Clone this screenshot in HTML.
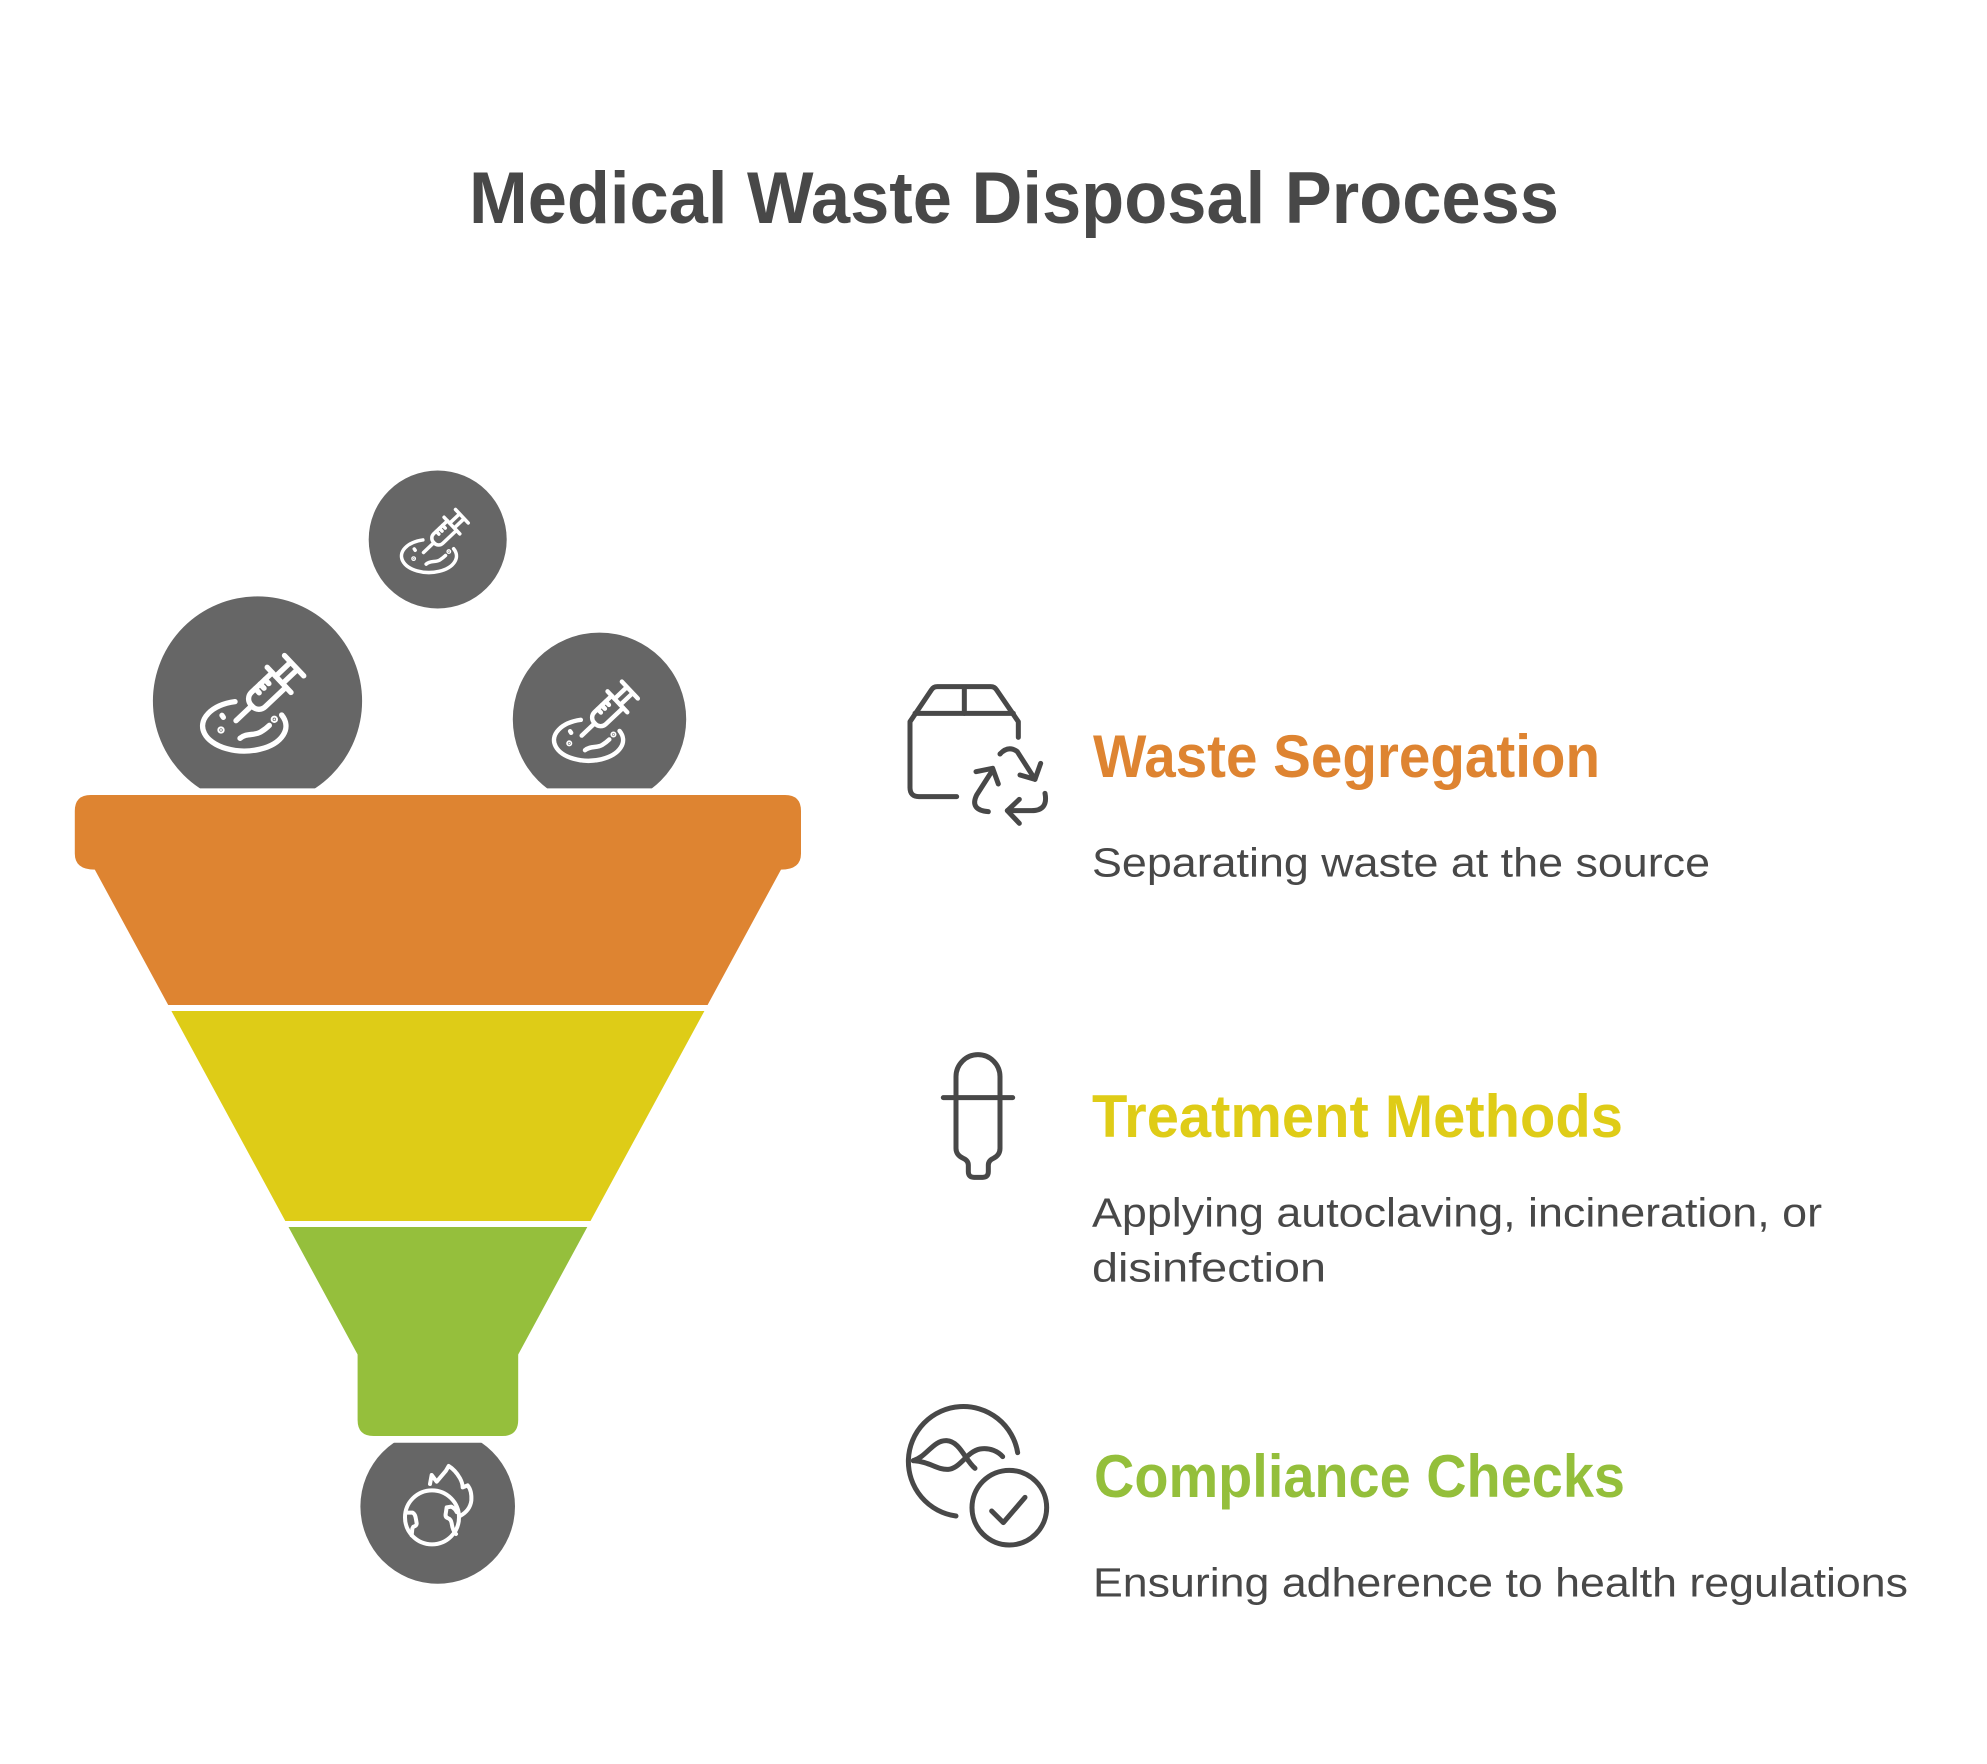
<!DOCTYPE html>
<html>
<head>
<meta charset="utf-8">
<style>
html,body{margin:0;padding:0;background:#fff;}
svg{display:block;}
text{font-family:"Liberation Sans",Arial,sans-serif;}
</style>
</head>
<body>
<svg width="1987" height="1764" viewBox="0 0 1987 1764" xmlns="http://www.w3.org/2000/svg">
<defs>
  <clipPath id="topClip"><rect x="0" y="0" width="1987" height="788.4"/></clipPath>
  <clipPath id="botClip"><rect x="0" y="1442.8" width="1987" height="400"/></clipPath>
  <g id="syr" fill="none" stroke="#fff" stroke-width="16" stroke-linecap="round" stroke-linejoin="round">
    <g transform="translate(168,302) rotate(-43.4)">
      <path d="M0,0 L65,0"/>
      <path d="M178,-30 L92,-30 A27,27 0 0 0 65,-3 L65,3 A27,27 0 0 0 92,30 L178,30"/>
      <path d="M178,-52 L178,52"/>
      <path d="M178,-15 L238,-15 M178,15 L238,15"/>
      <path d="M240,-42 L240,42"/>
      <path d="M108,-30 L108,-13 M128,-30 L128,-13 M148,-30 L148,-13"/>
    </g>
    <path d="M165,245 A125,75 0 1 0 305,285"/>
    <path d="M126,286 L130,292"/>
    <circle cx="123" cy="330" r="3" fill="#fff"/>
    <circle cx="283" cy="298" r="3" fill="#fff"/>
    <path d="M180,355 C200,338 222,348 242,336 C255,328 262,322 268,316"/>
  </g>
</defs>

<!-- Title -->
<text x="469" y="223" font-size="73" font-weight="bold" fill="#484848" textLength="1090" lengthAdjust="spacingAndGlyphs">Medical Waste Disposal Process</text>

<!-- Circles above funnel -->
<g clip-path="url(#topClip)">
  <circle cx="437.7" cy="539.5" r="69" fill="#666666"/>
  <circle cx="257.5" cy="701" r="104.6" fill="#666666"/>
  <circle cx="599.5" cy="719.3" r="86.7" fill="#666666"/>
</g>
<g transform="translate(257.5,701) scale(1) translate(-77.5,-81) scale(0.33333)"><use href="#syr"/></g>
<g transform="translate(437.7,539.5) scale(0.6597) translate(-77.5,-81) scale(0.33333)"><use href="#syr"/></g>
<g transform="translate(599.5,719.3) scale(0.8289) translate(-77.5,-81) scale(0.33333)"><use href="#syr"/></g>

<!-- Funnel -->
<path d="M90.8,795 L785,795 Q801,795 801,811 L801,853.6 Q801,869.6 781,869.6 L707.6,1005 L168.2,1005 L94.8,869.6 Q74.8,869.6 74.8,853.6 L74.8,811 Q74.8,795 90.8,795 Z" fill="#DE8431"/>
<path d="M171.4,1011 L704.4,1011 L590.5,1221 L285.3,1221 Z" fill="#DECC17"/>
<path d="M288.5,1227 L587.3,1227 L518.2,1354.5 L518.2,1420 Q518.2,1436 502.2,1436 L373.6,1436 Q357.6,1436 357.6,1420 L357.6,1354.5 Z" fill="#95BF3C"/>

<!-- Bottom circle -->
<g clip-path="url(#botClip)">
  <circle cx="437.7" cy="1506.4" r="77.3" fill="#666666"/>
</g>
<g transform="translate(380,1440) scale(0.33333)" fill="none" stroke="#fff" stroke-width="12" stroke-linecap="round" stroke-linejoin="round">
  <circle cx="156" cy="232" r="81"/>
  <path d="M150,132 L155,105 L170,125 L198,92 L206,78 Q226,90 240,115 Q248,130 248,142 L263,136 Q276,152 274,182 Q270,212 240,228"/>
  <path d="M78,218 L98,218 Q106,222 108,238 L110,250 Q110,258 100,260 L97,266 L95,286"/>
  <path d="M228,282 Q218,272 215,250 Q213,238 205,235 Q195,232 197,222 L200,202 L214,200 Q226,206 230,216"/>
</g>

<!-- Icon 1: box + recycle -->
<g transform="translate(880,660) scale(0.33333)" fill="none" stroke="#484848" stroke-width="15" stroke-linecap="round" stroke-linejoin="round">
  <path d="M415,232 L415,185 L350,90 Q344,80 332,80 L172,80 Q160,80 154,90 L90,185 L90,383 Q90,410 117,410 L230,410"/>
  <path d="M105,160 L400,160"/>
  <path d="M253,82 L253,160"/>
  <path d="M360,282 Q385,255 412,275 L465,358"/>
  <path d="M420,345 L465,358 L482,310"/>
  <path d="M495,400 Q505,452 455,452 L382,452"/>
  <path d="M418,418 L382,452 L418,490"/>
  <path d="M325,455 Q268,450 290,405 L338,330"/>
  <path d="M288,335 L338,325 L355,372"/>
</g>

<!-- Icon 2: dropper -->
<g transform="translate(880,1020) scale(0.33333)" fill="none" stroke="#484848" stroke-width="15" stroke-linecap="round" stroke-linejoin="round">
  <path d="M228,170 A66,66 0 0 1 360,170 L360,385 Q360,405 340,415 Q325,422 325,435 L325,455 Q325,472 308,472 L282,472 Q265,472 265,455 L265,435 Q265,422 250,415 Q228,405 228,385 Z"/>
  <path d="M190,233 L398,233"/>
</g>

<!-- Icon 3: compliance -->
<g transform="translate(880,1380) scale(0.33333)" fill="none" stroke="#484848" stroke-width="15" stroke-linecap="round" stroke-linejoin="round">
  <path d="M413,218 A165,165 0 1 0 228,408"/>
  <path d="M100,242 C140,230 160,180 200,182 C240,184 255,240 285,265"/>
  <path d="M100,242 C150,245 170,270 205,268 C240,266 260,215 300,207 C330,202 355,215 368,230"/>
  <circle cx="388" cy="383" r="112"/>
  <path d="M335,393 L370,428 L435,352"/>
</g>

<!-- Right side text -->
<text x="1093" y="777" font-size="60" font-weight="bold" fill="#DE8431" textLength="507" lengthAdjust="spacingAndGlyphs">Waste Segregation</text>
<text x="1092" y="876.5" font-size="41" fill="#484848" textLength="618" lengthAdjust="spacingAndGlyphs">Separating waste at the source</text>

<text x="1092" y="1137" font-size="60" font-weight="bold" fill="#DFCC17" textLength="531" lengthAdjust="spacingAndGlyphs">Treatment Methods</text>
<text x="1092" y="1226.5" font-size="41" fill="#484848" textLength="730" lengthAdjust="spacingAndGlyphs">Applying autoclaving, incineration, or</text>
<text x="1092" y="1281.5" font-size="41" fill="#484848" textLength="234" lengthAdjust="spacingAndGlyphs">disinfection</text>

<text x="1094" y="1497" font-size="60" font-weight="bold" fill="#94BF3B" textLength="531" lengthAdjust="spacingAndGlyphs">Compliance Checks</text>
<text x="1093" y="1596.5" font-size="41" fill="#484848" textLength="815" lengthAdjust="spacingAndGlyphs">Ensuring adherence to health regulations</text>
</svg>
</body>
</html>
